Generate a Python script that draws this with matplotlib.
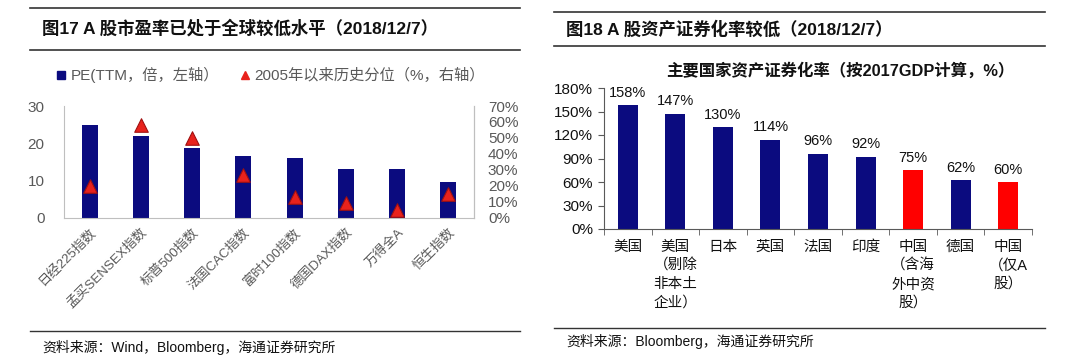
import matplotlib
matplotlib.use("Agg")
import matplotlib.pyplot as plt
from matplotlib.lines import Line2D
import numpy as np

plt.rcParams['font.family'] = ['Liberation Sans', 'Noto Sans CJK SC', 'DejaVu Sans']

# left chart data
idx_names = ['日经225指数', '孟买SENSEX指数', '标普500指数', '法国CAC指数',
             '富时100指数', '德国DAX指数', '万得全A', '恒生指数']
pe_values = [25.0, 22.0, 18.7, 16.6, 16.1, 13.1, 13.0, 9.7]
pct_values = [20, 58, 50, 27, 13, 9, 5, 15]

# right chart data
countries = ['美国', '美国\n（剔除\n非本土\n企业）', '日本', '英国', '法国', '印度',
             '中国\n（含海\n外中资\n股）', '德国', '中国\n（仅A\n股）']
sec_rates = [158, 147, 130, 114, 96, 92, 75, 62, 60]
highlight = [6, 8]

W, H = 1080, 359
NAVY = '#0b0b7f'
RED = '#ff0000'
GREY = '#595959'
SPINE = '#bfbfbf'

fig = plt.figure(figsize=(W / 100, H / 100), dpi=100)


def ax_px(x0, y_top, x1, y_bot):
    return fig.add_axes([x0 / W, 1 - y_bot / H, (x1 - x0) / W, (y_bot - y_top) / H])


def hline(x0, x1, y, lw=1.2, color='#333333'):
    fig.add_artist(Line2D([x0 / W, x1 / W], [1 - y / H, 1 - y / H], lw=lw, color=color))


# ---- left panel ----
hline(30, 520, 8)
hline(30, 520, 50)
fig.text(42 / W, 1 - 28 / H, '图17 A 股市盈率已处于全球较低水平（2018/12/7）',
         fontsize=12.5, fontweight='bold', va='center', color='#111111')
hline(30, 520, 331, lw=1.0)
fig.text(42 / W, 1 - 347 / H, '资料来源：Wind，Bloomberg，海通证券研究所',
         fontsize=10, va='center', color='#111111')

ax1 = ax_px(64, 106, 474, 217.7)
x = np.arange(len(idx_names))
ax1.bar(x, pe_values, width=0.31, color=NAVY, zorder=2)
ax1.set_xlim(-0.5, len(idx_names) - 0.5)
ax1.set_ylim(0, 30)
ax1.set_yticks([0, 10, 20, 30])
ax1.set_xticks(x)
ax1.set_xticklabels(idx_names, rotation=45, ha='right', rotation_mode='anchor',
                    fontsize=9.5, color=GREY)
ax1.tick_params(axis='y', length=0, labelsize=11, labelcolor=GREY, pad=14)
ax1.tick_params(axis='x', length=0, pad=6)
for s in ['left', 'bottom', 'right']:
    ax1.spines[s].set_color(SPINE)
ax1.spines['top'].set_visible(False)

ax1b = ax1.twinx()
ax1b.scatter(x, pct_values, marker='^', s=95, color='#e8221c', edgecolor='#a01010',
             linewidth=0.8, zorder=3)
ax1b.set_ylim(0, 70)
ax1b.set_yticks(range(0, 80, 10))
ax1b.set_yticklabels([f'{v}%' for v in range(0, 80, 10)])
ax1b.tick_params(axis='y', length=0, labelsize=11, labelcolor=GREY, pad=10)
for s in ['top', 'left', 'bottom']:
    ax1b.spines[s].set_visible(False)
ax1b.spines['right'].set_color(SPINE)

leg_handles = [
    Line2D([], [], marker='s', color=NAVY, linestyle='', markersize=6),
    Line2D([], [], marker='^', color='#e8221c', linestyle='', markersize=6),
]
fig.legend(leg_handles, ['PE(TTM，倍，左轴）', '2005年以来历史分位（%，右轴）'],
           loc='center left', bbox_to_anchor=(40 / W, 1 - 75 / H), ncol=2,
           frameon=False, fontsize=11, handletextpad=0.1, columnspacing=1.2,
           handlelength=1.0, labelcolor=GREY)

# ---- right panel ----
hline(554, 1045, 12)
hline(554, 1045, 46)
fig.text(566 / W, 1 - 29 / H, '图18 A 股资产证券化率较低（2018/12/7）',
         fontsize=12.5, fontweight='bold', va='center', color='#111111')
fig.text(840 / W, 1 - 70 / H, '主要国家资产证券化率（按2017GDP计算，%）',
         fontsize=11.8, fontweight='bold', ha='center', va='center', color='#111111')
hline(554, 1045, 328, lw=1.0)
fig.text(566 / W, 1 - 341 / H, '资料来源：Bloomberg，海通证券研究所',
         fontsize=10, va='center', color='#111111')

ax2 = ax_px(604, 88, 1032, 229)
x2 = np.arange(len(countries))
colors = [RED if i in highlight else NAVY for i in x2]
ax2.bar(x2, sec_rates, width=0.42, color=colors, zorder=2)
for xi, v in zip(x2, sec_rates):
    ax2.text(xi, v + 7, f'{v}%', ha='center', va='bottom', fontsize=10.5, color='#111111')
ax2.set_xlim(-0.5, len(countries) - 0.5)
ax2.set_ylim(0, 180)
ax2.set_yticks(range(0, 181, 30))
ax2.set_yticklabels([f'{v}%' for v in range(0, 181, 30)])
ax2.tick_params(axis='y', length=4, color=GREY, labelsize=11, labelcolor='#111111', pad=4)
ax2.set_xticks(x2)
ax2.set_xticklabels(countries, fontsize=10.5, va='top', linespacing=1.4, color='#111111')
ax2.set_xticks(np.arange(-0.5, len(countries)), minor=True)
ax2.tick_params(axis='x', which='major', length=0, pad=8)
ax2.tick_params(axis='x', which='minor', length=4, color=GREY)
for s in ['top', 'right']:
    ax2.spines[s].set_visible(False)
for s in ['left', 'bottom']:
    ax2.spines[s].set_color(GREY)

fig.savefig('out.png', dpi=100)
